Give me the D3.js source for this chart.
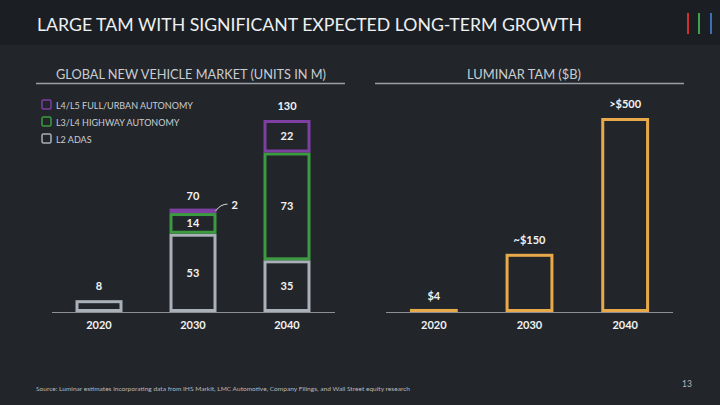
<!DOCTYPE html>
<html>
<head>
<meta charset="utf-8">
<script src="https://cdn.jsdelivr.net/npm/d3@7"></script>
<style>
  html, body { margin: 0; padding: 0; background: #22262b; }
  svg text { font-family: "Lato", "Open Sans", sans-serif; }
</style>
</head>
<body>
<svg id="chart" width="720" height="405"></svg>
<script>
// --- data ---
var years = ["2020", "2030", "2040"];
var levels = ["L2 ADAS", "L3/L4 HIGHWAY AUTONOMY", "L4/L5 FULL/URBAN AUTONOMY"];
var l2Units = [8, 53, 35];
var l3Units = [0, 14, 73];
var l4Units = [0, 2, 22];
var totalLabels = ["8", "70", "130"];
var tamValues = [4, 150, 500];
var tamLabels = ["$4", "~$150", ">$500"];

var colors = {
  l2: "#a9b0b8",
  l3: "#3c9a41",
  l4: "#7e3fa3",
  tam: "#e8a94a",
  axis: "#8c9197",
  head: "#c9cdd1"
};

var svg = d3.select("#chart");
var sw = 3;

// header band
svg.append("rect").attr("x", 0).attr("y", 0).attr("width", 720).attr("height", 45).attr("fill", "#1b1f23");
svg.append("text")
  .attr("x", 37).attr("y", 31)
  .attr("textLength", 545).attr("lengthAdjust", "spacingAndGlyphs")
  .style("font-size", "18px").style("fill", "#eef0f2")
  .text("LARGE TAM WITH SIGNIFICANT EXPECTED LONG-TERM GROWTH");

// logo bars
[["#d0312d", 687], ["#3fa34d", 698], ["#3b6fb6", 710]].forEach(function(d) {
  svg.append("rect").attr("x", d[1]).attr("y", 13).attr("width", 2).attr("height", 21).attr("fill", d[0]);
});

// section headings
function heading(text, cx, x1, x2, len) {
  svg.append("text").attr("x", cx).attr("y", 79).attr("text-anchor", "middle")
    .attr("textLength", len).attr("lengthAdjust", "spacingAndGlyphs")
    .style("font-size", "12.5px").style("fill", colors.head).text(text);
  svg.append("line").attr("x1", x1).attr("x2", x2).attr("y1", 83.5).attr("y2", 83.5)
    .style("stroke", "#9a9fa5").style("stroke-width", 1.5);
}
heading("GLOBAL NEW VEHICLE MARKET (UNITS IN M)", 191, 36, 345, 270);
heading("LUMINAR TAM ($B)", 524, 375, 684, 114);

// legend
var legendColors = [colors.l4, colors.l3, colors.l2];
[levels[2], levels[1], levels[0]].forEach(function(t, i) {
  var y = 100 + i * 17;
  svg.append("rect").attr("x", 42).attr("y", y).attr("width", 9).attr("height", 9)
    .attr("rx", 1.5).attr("fill", "none").style("stroke", legendColors[i]).style("stroke-width", 1.5);
  svg.append("text").attr("x", 56).attr("y", y + 8.5)
    .style("font-size", "9px").style("fill", colors.head).text(t);
});

// outlined box between two pixel rows; boxes too thin for an outline are filled
function drawBox(g, x, w, yTop, yBase, color) {
  var h = yBase - yTop;
  if (h < 2 * sw) {
    g.append("rect").attr("x", x).attr("width", w)
      .attr("y", yTop - sw / 2).attr("height", Math.max(h + sw / 2, sw))
      .attr("fill", color);
  } else {
    g.append("rect").attr("x", x + sw / 2).attr("width", w - sw)
      .attr("y", yTop + sw / 2).attr("height", h - sw)
      .attr("fill", "none").style("stroke", color).style("stroke-width", sw);
  }
}

function label(g, x, y, t) {
  g.append("text").attr("x", x).attr("y", y).attr("text-anchor", "middle")
    .style("font-size", "11px").style("font-weight", "bold").style("fill", "#f2f2f2").text(t);
}

// ---- left chart ----
var xL = d3.scaleBand().domain(years).range([52, 334]).paddingInner(0.5).paddingOuter(0.25);
var yL = d3.scaleLinear().domain([0, 130]).range([312, 120]);

var segs = [];
years.forEach(function(yr, i) {
  var base = 0;
  [[l2Units[i], colors.l2], [l3Units[i], colors.l3], [l4Units[i], colors.l4]].forEach(function(s) {
    if (s[0] > 0) segs.push({ year: yr, y0: base, y1: base + s[0], v: s[0], color: s[1] });
    base += s[0];
  });
});

var gL = svg.append("g");
gL.append("line").attr("x1", 52).attr("x2", 335).attr("y1", yL(0) + 0.5).attr("y2", yL(0) + 0.5)
  .style("stroke", colors.axis).style("stroke-width", 1);

segs.forEach(function(d) {
  drawBox(gL, xL(d.year), xL.bandwidth(), yL(d.y1), yL(d.y0), d.color);
});

// segment value labels (only where the segment is tall enough)
segs.filter(function(d) { return d.v >= 10; }).forEach(function(d) {
  label(gL, xL(d.year) + xL.bandwidth() / 2, (yL(d.y0) + yL(d.y1)) / 2 + 4, d.v);
});

var totals = years.map(function(yr, i) { return l2Units[i] + l3Units[i] + l4Units[i]; });
years.forEach(function(yr, i) {
  label(gL, xL(yr) + xL.bandwidth() / 2, yL(totals[i]) - 10, totalLabels[i]);
  label(gL, xL(yr) + xL.bandwidth() / 2, 329, yr);
});

// callout for the 2030 L4 slice
var cx = xL("2030") + xL.bandwidth(), cy = yL(totals[1]);
gL.append("path")
  .attr("d", "M" + (cx - 1) + "," + (cy + 1) + " Q" + (cx + 4) + "," + (cy - 6) + " " + (cx + 11) + "," + (cy - 6))
  .attr("fill", "none").style("stroke", "#d8dadd").style("stroke-width", 1);
gL.append("text").attr("x", cx + 15).attr("y", cy - 1.5)
  .style("font-size", "11px").style("font-weight", "bold").style("fill", "#f2f2f2").text(l4Units[1]);

// ---- right chart ----
var xR = d3.scaleBand().domain(years).range([386, 673]).paddingInner(0.5).paddingOuter(0.25);
var yR = d3.scaleLinear().domain([0, 500]).range([312, 118]);

var gR = svg.append("g");
gR.append("line").attr("x1", 386).attr("x2", 673).attr("y1", yR(0) + 0.5).attr("y2", yR(0) + 0.5)
  .style("stroke", colors.axis).style("stroke-width", 1);

tamValues.forEach(function(v, i) {
  drawBox(gR, xR(years[i]), xR.bandwidth(), yR(v), yR(0), colors.tam);
  label(gR, xR(years[i]) + xR.bandwidth() / 2, yR(v) - 10, tamLabels[i]);
  label(gR, xR(years[i]) + xR.bandwidth() / 2, 329, years[i]);
});

// footer
svg.append("text").attr("x", 36).attr("y", 391)
  .attr("textLength", 374).attr("lengthAdjust", "spacingAndGlyphs")
  .style("font-size", "6.5px").style("fill", "#b5b9bd")
  .text("Source: Luminar estimates incorporating data from IHS Markit, LMC Automotive, Company Filings, and Wall Street equity research");
svg.append("text").attr("x", 682).attr("y", 387)
  .style("font-size", "8.5px").style("fill", "#b5b9bd").text("13");
</script>
</body>
</html>
